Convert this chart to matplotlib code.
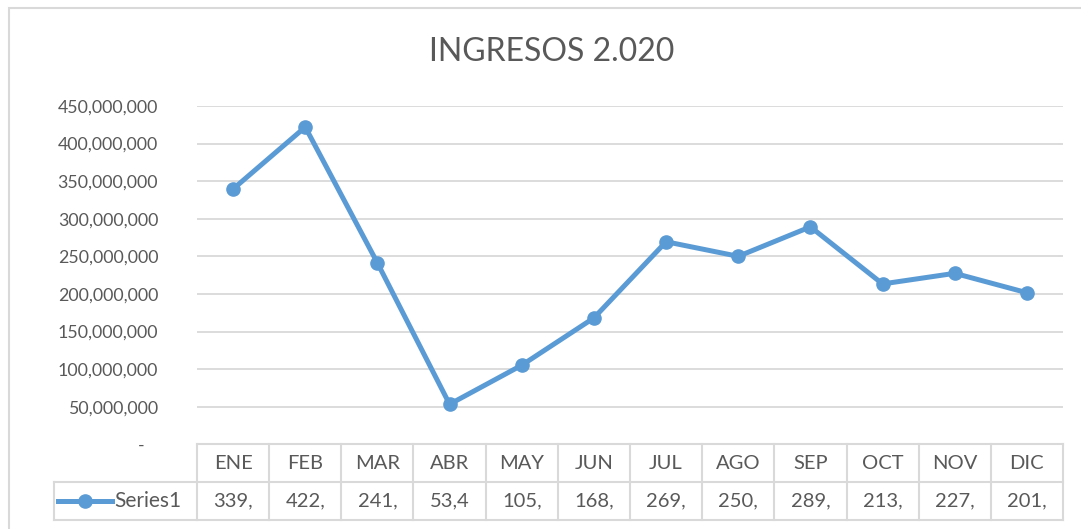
import matplotlib
matplotlib.use('Agg')
import matplotlib.pyplot as plt
from matplotlib.ticker import FuncFormatter, MultipleLocator
from matplotlib.lines import Line2D
from matplotlib.patches import Rectangle
from matplotlib.transforms import blended_transform_factory

plt.rcParams['font.family'] = ['Lato', 'DejaVu Sans']

title = "INGRESOS 2.020"
months = ["ENE", "FEB", "MAR", "ABR", "MAY", "JUN", "JUL", "AGO", "SEP", "OCT", "NOV", "DIC"]
values = [339.6e6, 422.0e6, 241.3e6, 53.4e6, 105.3e6, 168.2e6,
          269.5e6, 250.1e6, 289.3e6, 213.4e6, 227.5e6, 201.7e6]
series_name = "Series1"

BLUE = '#5B9BD5'
TXT = '#595959'
GRID = '#D9D9D9'

W, H = 1081, 529
fig = plt.figure(figsize=(W / 100, H / 100), dpi=100)


def fx(px):
    return px / W


def fy(py):
    return 1 - py / H


ax_l, ax_r, ax_t, ax_b = 197, 1063, 106, 444.4
ax = fig.add_axes([fx(ax_l), fy(ax_b), fx(ax_r) - fx(ax_l), fy(ax_t) - fy(ax_b)])
axw = ax_r - ax_l
axh = ax_b - ax_t

# chart border
fig.add_artist(Rectangle((fx(9), -0.2), 1.5, fy(8) + 0.2, transform=fig.transFigure,
                         facecolor='none', edgecolor=GRID, lw=1.5, clip_on=False))

x = list(range(len(months)))
ax.plot(x, values, color=BLUE, lw=3.6, marker='o', markersize=9.5, solid_capstyle='round', zorder=3)

ax.set_xlim(-0.5, len(months) - 0.5)
ax.set_ylim(0, 450e6)
ax.yaxis.set_major_locator(MultipleLocator(50e6))
ax.yaxis.set_major_formatter(FuncFormatter(lambda v, p: "-   " if v == 0 else f"{v:,.0f}"))
ax.tick_params(axis='y', length=0, pad=28, labelsize=12.8, labelcolor=TXT)
ax.set_xticks([])
for s in ax.spines.values():
    s.set_visible(False)
ax.yaxis.grid(True, color=GRID, lw=1.3)
ax.set_axisbelow(True)

fig.text(fx(551.5), fy(52), title, ha='center', va='center', fontsize=23, color=TXT)

# data table
blend = blended_transform_factory(ax.transData, ax.transAxes)
r1 = -(482 - ax_b) / axh
r2 = -(520 - ax_b) / axh
leg_l = (54 - ax_l) / axw
lkw = dict(color=GRID, lw=1.5, clip_on=False)
ax.add_line(Line2D([0, 1], [0, 0], transform=ax.transAxes, **lkw))
ax.add_line(Line2D([leg_l, 1], [r1, r1], transform=ax.transAxes, **lkw))
ax.add_line(Line2D([leg_l, 1], [r2, r2], transform=ax.transAxes, **lkw))
ax.add_line(Line2D([leg_l, leg_l], [r1, r2], transform=ax.transAxes, **lkw))
for i in range(len(months) + 1):
    ax.add_line(Line2D([i - 0.5, i - 0.5], [0, r2], transform=blend, **lkw))
for i, (m, v) in enumerate(zip(months, values)):
    ax.text(i, r1 / 2, m, transform=blend, ha='center', va='center', fontsize=14.5, color=TXT)
    ax.text(i, (r1 + r2) / 2, f"{v:,.0f}"[:4], transform=blend, ha='center', va='center',
            fontsize=14.5, color=TXT)

ym = (r1 + r2) / 2
ax.add_line(Line2D([(58 - ax_l) / axw, (112 - ax_l) / axw], [ym, ym], transform=ax.transAxes,
                   color=BLUE, lw=3.6, clip_on=False))
ax.add_line(Line2D([(85 - ax_l) / axw], [ym], transform=ax.transAxes, color=BLUE,
                   marker='o', markersize=9.5, clip_on=False))
ax.text((114 - ax_l) / axw, ym, series_name, transform=ax.transAxes, ha='left', va='center',
        fontsize=15, color=TXT)

fig.savefig('out.png', dpi=100)
